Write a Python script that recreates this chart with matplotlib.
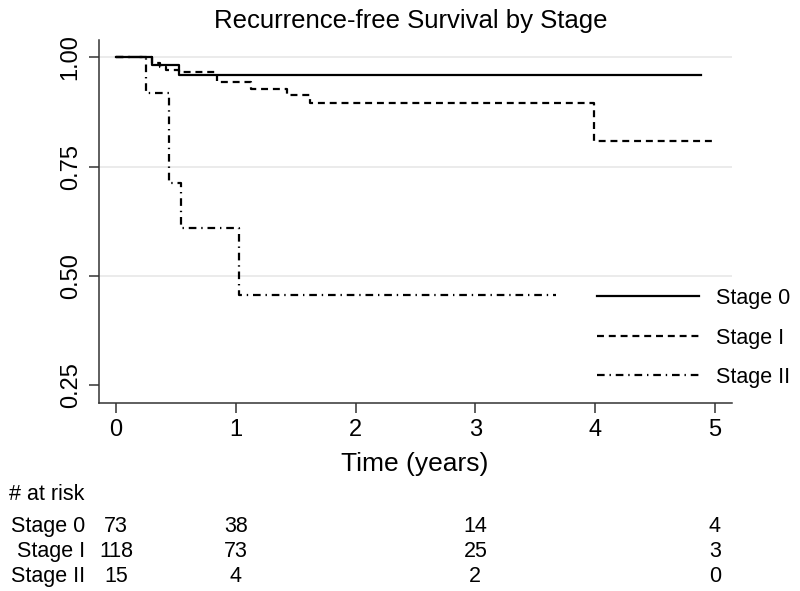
import matplotlib
matplotlib.use("Agg")
import matplotlib.pyplot as plt
import matplotlib.transforms as mtransforms

# --- Kaplan-Meier step data ---
stage0_t = [0, 0.30, 0.53, 4.88]
stage0_s = [1.0, 0.982, 0.961, 0.961]

stage1_t = [0, 0.30, 0.37, 0.42, 0.53, 0.84, 1.13, 1.43, 1.62, 3.99, 4.98]
stage1_s = [1.0, 0.987, 0.979, 0.972, 0.967, 0.943, 0.928, 0.913, 0.896, 0.808, 0.808]

stage2_t = [0, 0.25, 0.44, 0.54, 1.03, 3.67]
stage2_s = [1.0, 0.919, 0.713, 0.610, 0.456, 0.456]

labels = ["Stage 0", "Stage I", "Stage II"]

# --- numbers at risk table ---
risk_times = [0, 1, 3, 5]
risk_stage0 = [73, 38, 14, 4]
risk_stage1 = [118, 73, 25, 3]
risk_stage2 = [15, 4, 2, 0]

x_ticks = [0, 1, 2, 3, 4, 5]
y_ticks = [0.25, 0.50, 0.75, 1.00]
grid_vals = [0.50, 0.75, 1.00]

plt.rcParams['font.family'] = ['Liberation Sans', 'DejaVu Sans']
plt.rcParams['lines.scale_dashes'] = False
FS = 15.5       # legend / risk table
TICK_FS = 17
W, H = 800, 591

fig = plt.figure(figsize=(8, 5.91), dpi=100)
ax = fig.add_axes([99 / W, 1 - 403 / H, (731.7 - 99) / W, (403 - 40) / H])

for g in grid_vals:
    ax.axhline(g, color='#e6e6e6', linewidth=1.1, zorder=0)

ax.step(stage0_t, stage0_s, where='post', color='black', linewidth=1.6,
        label=labels[0])
ax.step(stage1_t, stage1_s, where='post', color='black', linewidth=1.6,
        dashes=(5, 3.5), label=labels[1])
ax.step(stage2_t, stage2_s, where='post', color='black', linewidth=1.6,
        dashes=(5.5, 3.5, 1, 3.5), label=labels[2])

ax.set_xlim(-0.142, 5.14)
ax.set_ylim(0.209, 1.04)
ax.set_xticks(x_ticks)
ax.set_yticks(y_ticks)
ax.set_yticklabels([f"{v:.2f}" for v in y_ticks], rotation=90, va='center')

for side in ['top', 'right']:
    ax.spines[side].set_visible(False)
for side in ['left', 'bottom']:
    ax.spines[side].set_color('#333333')
    ax.spines[side].set_linewidth(1.1)
ax.tick_params(axis='both', length=7.5, width=1.1, color='#333333',
               labelsize=TICK_FS, direction='out')
ax.tick_params(axis='x', pad=4)
ax.tick_params(axis='y', pad=5)

leg = ax.legend(loc='upper left', bbox_to_anchor=(597 / W, 1 - 288 / H),
                bbox_transform=fig.transFigure, frameon=False, fontsize=FS,
                handlelength=4.74, handletextpad=0.79, labelspacing=0.86,
                borderpad=0, borderaxespad=0)

# title and axis label
fig.text(411 / W, 1 - 28 / H, "Recurrence-free Survival by Stage",
         ha='center', va='baseline', fontsize=18.5)
fig.text(415 / W, 1 - 471 / H, "Time (years)", ha='center', va='baseline',
         fontsize=19)

# risk table: x in data coords, y in figure coords
trans = mtransforms.blended_transform_factory(ax.transData, fig.transFigure)
fig.text(9 / W, 1 - 500 / H, "# at risk", ha='left', va='baseline', fontsize=FS)
rows = [risk_stage0, risk_stage1, risk_stage2]
row_base = [532, 557, 582]
for lab, vals, yb in zip(labels, rows, row_base):
    fig.text(85 / W, 1 - yb / H, lab, ha='right', va='baseline', fontsize=FS)
    for t, n in zip(risk_times, vals):
        ax.text(t, 1 - yb / H, str(n), transform=trans, ha='center',
                va='baseline', fontsize=FS, clip_on=False)

fig.savefig("out.png", dpi=100)
